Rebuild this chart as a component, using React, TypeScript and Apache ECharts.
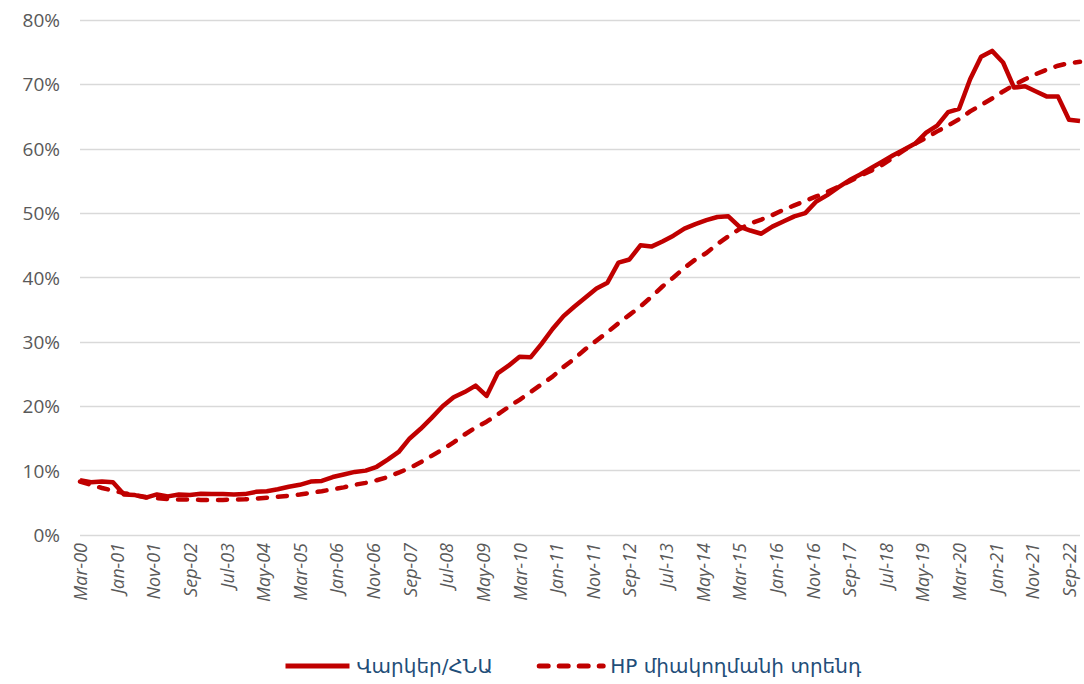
import React, { useEffect, useRef } from "react";
import * as echarts from "echarts";

// Monthly category axis: Mar-00 .. Dec-22 (data are quarterly: Mar, Jun, Sep, Dec)
const monthNames = ["Jan", "Feb", "Mar", "Apr", "May", "Jun", "Jul", "Aug", "Sep", "Oct", "Nov", "Dec"];
const startYear = 2000;
const startMonth = 2; // March
const monthCount = 274;
const categories: string[] = Array.from({ length: monthCount }, (_, i) => {
  const m = (startMonth + i) % 12;
  const y = startYear + Math.floor((startMonth + i) / 12);
  return `${monthNames[m]}-${String(y % 100).padStart(2, "0")}`;
});

const seriesNames = ["Վարկեր/ՀՆԱ", "HP միակողմանի տրենդ"];

// Loans / GDP, %, quarterly Mar-00 .. Dec-22
const loansToGdp = [
  8.5, 8.2, 8.3, 8.2, 6.3, 6.2, 5.8, 6.3, 6.0, 6.3,
  6.2, 6.4, 6.35, 6.35, 6.3, 6.35, 6.7, 6.8, 7.1, 7.5,
  7.8, 8.3, 8.4, 9.0, 9.4, 9.8, 10.0, 10.6, 11.7, 12.9,
  15.0, 16.5, 18.2, 20.0, 21.4, 22.2, 23.2, 21.6, 25.1, 26.3,
  27.7, 27.6, 29.7, 32.0, 34.0, 35.5, 36.9, 38.3, 39.2, 42.3,
  42.8, 45.0, 44.8, 45.6, 46.5, 47.6, 48.3, 48.9, 49.4, 49.5,
  47.9, 47.3, 46.8, 47.9, 48.7, 49.5, 50.0, 51.8, 52.8, 54.0,
  55.1, 56.0, 57.0, 58.0, 59.0, 59.9, 60.8, 62.5, 63.6, 65.7,
  66.2, 70.8, 74.3, 75.2, 73.4, 69.5, 69.7, 68.9, 68.1, 68.1,
  64.5, 64.3,
];

// One-sided HP trend, %, quarterly Mar-00 .. Dec-22
const hpTrend = [
  8.3, 7.8, 7.3, 6.9, 6.5, 6.2, 5.9, 5.7, 5.6, 5.5,
  5.5, 5.45, 5.45, 5.45, 5.5, 5.55, 5.65, 5.8, 5.95, 6.1,
  6.3, 6.55, 6.8, 7.1, 7.4, 7.8, 8.1, 8.5, 9.0, 9.7,
  10.4, 11.3, 12.3, 13.3, 14.4, 15.6, 16.7, 17.6, 18.7, 19.9,
  21.0, 22.2, 23.4, 24.6, 26.1, 27.4, 28.9, 30.2, 31.5, 32.9,
  34.2, 35.5, 37.0, 38.6, 40.0, 41.5, 42.8, 43.8, 45.2, 46.4,
  47.5, 48.4, 49.0, 49.7, 50.5, 51.2, 51.9, 52.6, 53.3, 54.1,
  54.9, 55.8, 56.6, 57.5, 58.6, 59.8, 60.8, 61.7, 62.7, 63.6,
  64.6, 65.8, 66.8, 67.8, 68.9, 69.9, 70.8, 71.6, 72.3, 72.9,
  73.3, 73.5,
];

const yMin = 0;
const yMax = 80;
const yStep = 10;

function toMonthly(q: number[]): (number | null)[] {
  const out: (number | null)[] = new Array(monthCount).fill(null);
  q.forEach((v, i) => {
    out[i * 3] = v;
  });
  return out;
}

const RED = "#C00000";

export default function App() {
  const ref = useRef<HTMLDivElement>(null);
  useEffect(() => {
    if (!ref.current) return;
    const chart = echarts.init(ref.current, undefined, { renderer: "svg" });
    chart.setOption({
      animation: false,
      backgroundColor: "#ffffff",
      grid: { left: 80, right: 4, top: 20, bottom: 149, containLabel: false },
      legend: {
        left: 278,
        top: 651,
        itemWidth: 64,
        itemHeight: 14,
        itemGap: 44,
        itemStyle: { opacity: 0 },
        lineStyle: { width: 5 },
        textStyle: { color: "#1F4E79", fontSize: 20, padding: [0, 0, 0, 2], fontFamily: "DejaVu Sans, Noto Sans, sans-serif" },
        data: seriesNames,
      },
      xAxis: {
        type: "category",
        boundaryGap: false,
        data: categories,
        axisLine: { show: false },
        axisTick: { show: false },
        splitLine: { show: false },
        axisLabel: {
          interval: 9,
          rotate: 90,
          margin: 8,
          color: "#595959",
          fontSize: 18,
          fontStyle: "italic",
          fontFamily: "Open Sans, Noto Sans, sans-serif",
        },
      },
      yAxis: {
        type: "value",
        min: yMin,
        max: yMax,
        interval: yStep,
        axisLine: { show: false },
        axisTick: { show: false },
        splitLine: { lineStyle: { color: "#D9D9D9", width: 1.3 } },
        axisLabel: {
          formatter: "{value}%",
          color: "#595959",
          fontSize: 19,
          margin: 20,
          fontFamily: "Open Sans, Noto Sans, sans-serif",
        },
      },
      series: [
        {
          name: seriesNames[0],
          type: "line",
          data: toMonthly(loansToGdp),
          connectNulls: true,
          showSymbol: false,
          symbol: "none",
          lineStyle: { color: RED, width: 4.5, join: "round" },
          itemStyle: { color: RED },
          z: 3,
        },
        {
          name: seriesNames[1],
          type: "line",
          data: toMonthly(hpTrend),
          connectNulls: true,
          showSymbol: false,
          symbol: "none",
          lineStyle: { color: RED, width: 4.5, type: [9, 11], cap: "round" },
          itemStyle: { color: RED },
          z: 2,
        },
      ],
    });
    return () => chart.dispose();
  }, []);
  return (
    <div
      ref={ref}
      style={{ position: "fixed", left: 0, top: 0, width: 1084, height: 684, background: "#fff" }}
    />
  );
}
